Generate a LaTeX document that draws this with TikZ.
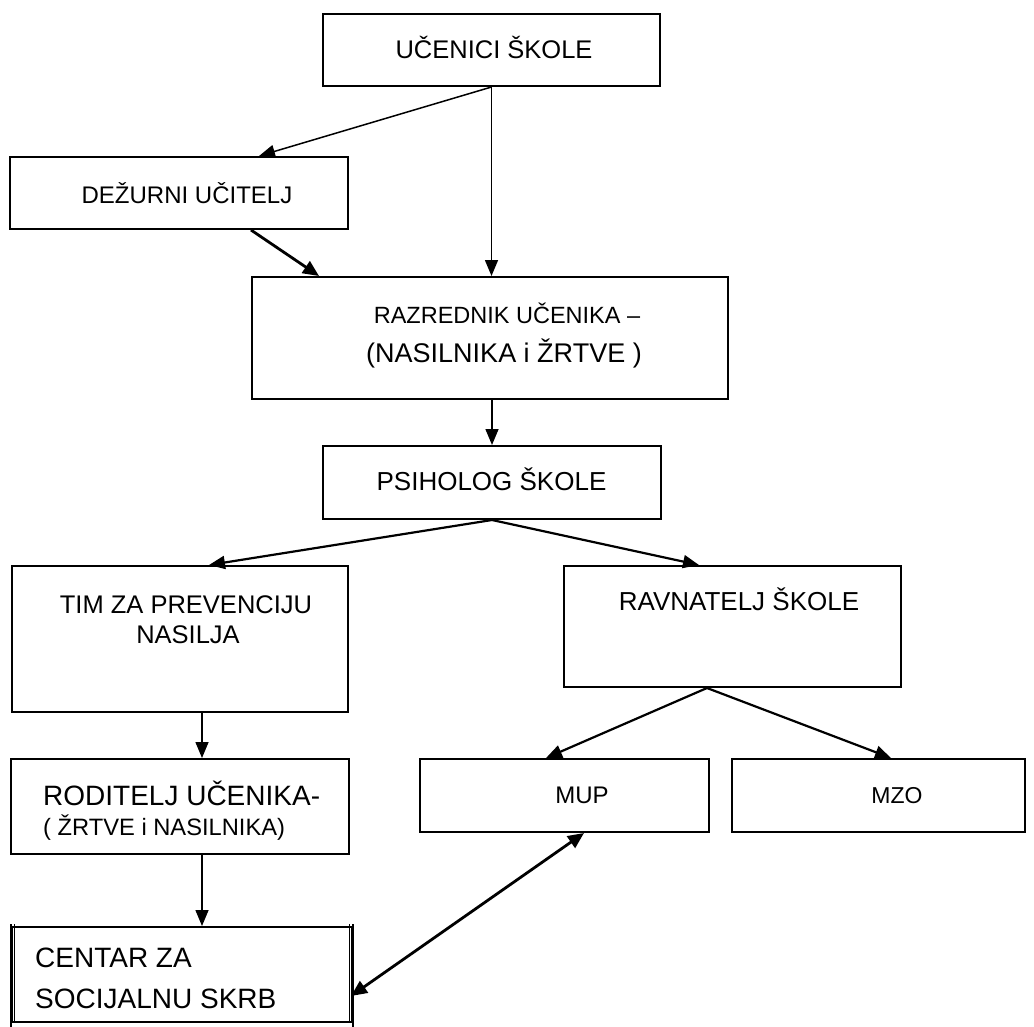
\documentclass[tikz,border=0pt]{standalone}
\usepackage{fontspec}
\setmainfont{Liberation Sans}
\usetikzlibrary{arrows.meta,calc}
\begin{document}
\begin{tikzpicture}[x=1pt,y=-1pt,
  box/.style={draw, line width=2pt, inner sep=0pt, line join=miter},
  txt/.style={inner sep=0pt, anchor=base},
  txtl/.style={inner sep=0pt, anchor=base west},
  arr/.style={line width=1.5pt, -{Triangle[length=16pt,width=13pt]}},
  arrmid/.style={line width=2.2pt, -{Triangle[length=16pt,width=13pt]}},
  arrthick/.style={line width=2.8pt, -{Triangle[length=16pt,width=14pt]}},
  arrboth/.style={line width=2.8pt, {Triangle[length=16pt,width=14pt]}-{Triangle[length=16pt,width=14pt]}}]
\useasboundingbox (0,0) rectangle (1034,1026);

% boxes
\node[box, minimum width=337pt, minimum height=72pt] (ucen) at (491.5,50) {};
\node[box, minimum width=338pt, minimum height=72pt] (dez) at (179,193) {};
\node[box, minimum width=476pt, minimum height=122pt] (razr) at (490,338) {};
\node[box, minimum width=338pt, minimum height=73pt] (psih) at (492,482.5) {};
\node[box, minimum width=336pt, minimum height=146pt] (tim) at (180,639) {};
\node[box, minimum width=337pt, minimum height=121pt] (ravn) at (732.5,626.5) {};
\node[box, minimum width=338pt, minimum height=95pt] (rod) at (180,806.5) {};
\node[box, minimum width=289pt, minimum height=73pt] (mup) at (564.5,795.5) {};
\node[box, minimum width=293pt, minimum height=73pt] (mzo) at (878.5,795.5) {};
\node[box, minimum width=340pt, minimum height=95pt] (cent) at (182,974.5) {};
\draw[line width=1.7pt] ($(cent.north west)+(3.5,-2)$) -- ($(cent.south west)+(3.5,0)$);
\draw[line width=1.7pt] ($(cent.north west)+(0,-2)$) -- ($(cent.south west)+(0,4)$);
\draw[line width=1.7pt] ($(cent.north east)+(-3.5,-2)$) -- ($(cent.south east)+(-3.5,0)$);
\draw[line width=1.7pt] ($(cent.north east)+(0,-2)$) -- ($(cent.south east)+(0,4)$);

% texts
\node[txt, font=\fontsize{25.5}{30}\selectfont] (t1) at (494,58) {UČENICI ŠKOLE};
\node[txt, font=\fontsize{24}{28}\selectfont] (t2) at (187,203) {DEŽURNI UČITELJ};
\node[txt, font=\fontsize{23.5}{28}\selectfont] (t3a) at (507,323) {RAZREDNIK UČENIKA –};
\node[txt, font=\fontsize{27}{32}\selectfont] (t3b) at (504,362) {(NASILNIKA i ŽRTVE )};
\node[txt, font=\fontsize{26}{30}\selectfont] (t4) at (491.5,490) {PSIHOLOG ŠKOLE};
\node[txt, font=\fontsize{25.5}{30}\selectfont] (t5a) at (186,613) {TIM ZA PREVENCIJU};
\node[txt, font=\fontsize{25.5}{30}\selectfont] (t5b) at (188,643) {NASILJA};
\node[txt, font=\fontsize{26}{30}\selectfont] (t6) at (739,610) {RAVNATELJ ŠKOLE};
\node[txtl, font=\fontsize{28}{32}\selectfont] (t7a) at (43,805) {RODITELJ UČENIKA-};
\node[txtl, font=\fontsize{23.7}{28}\selectfont] (t7b) at (43,835) {( ŽRTVE i NASILNIKA)};
\node[txt, font=\fontsize{24}{28}\selectfont] (t8) at (582,803) {MUP};
\node[txt, font=\fontsize{23}{28}\selectfont] (t9) at (897,803) {MZO};
\node[txtl, font=\fontsize{28}{32}\selectfont] (t10a) at (35,967) {CENTAR ZA};
\node[txtl, font=\fontsize{28}{32}\selectfont] (t10b) at (35,1008) {SOCIJALNU SKRB};

% connectors
\coordinate (a7) at ($(tim.south west)+(191,0)$);
\coordinate (a8) at ($(rod.south west)+(192,0)$);
\coordinate (rv) at ($(ravn.south west)+(144,0)$);
\draw[arr] (ucen.south) -- ($(dez.north west)+(250,0)$);
\draw[arr] (ucen.south) -- (ucen.south |- razr.north);
\draw[arrthick] ($(dez.south west)+(242,0)$) -- ($(razr.north west)+(68,0)$);
\draw[arr] (psih.north |- razr.south) -- (psih.north);
\draw[arrmid] (psih.south) -- ($(tim.north west)+(198,0)$);
\draw[arrmid] (psih.south) -- ($(ravn.north west)+(136,0)$);
\draw[arr] (a7) -- (a7 |- rod.north);
\draw[arr] (a8) -- (a8 |- cent.north);
\draw[arrmid] (rv) -- ($(mup.north west)+(127,0)$);
\draw[arrmid] (rv) -- ($(mzo.north west)+(160,0)$);
\draw[arrboth] ($(mup.south west)+(165,0)$) -- ($(cent.north east)+(-2,70)$);
\end{tikzpicture}
\end{document}
